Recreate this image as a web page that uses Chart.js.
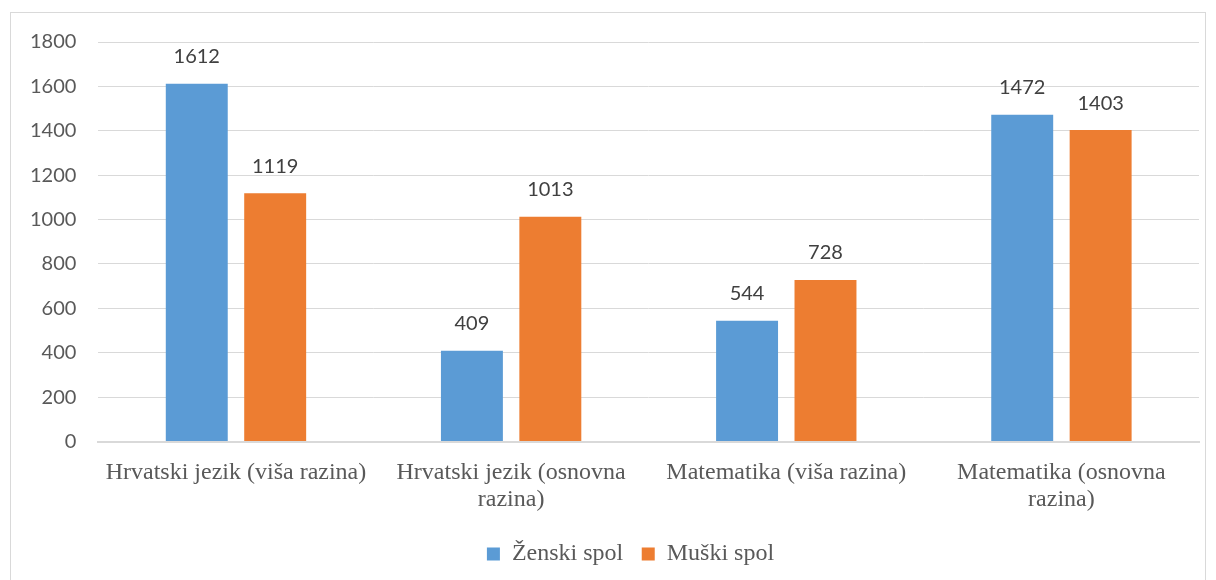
<!DOCTYPE html>
<html>
<head>
<meta charset="utf-8">
<script src="https://cdn.jsdelivr.net/npm/chart.js@4"></script>
<style>
  html, body { margin: 0; padding: 0; background: #fff; }
  #frame { position: absolute; left: 10px; top: 12px; width: 1196px; height: 600px; border: 1px solid #d9d9d9; box-sizing: border-box; }
  #wrap { position: absolute; left: 0; top: 0; width: 1216px; height: 580px; }
</style>
</head>
<body>
<div id="frame"></div>
<div id="wrap"><canvas id="barChart"></canvas></div>
<script>
// podaci
const categories = [
    "Hrvatski jezik (viša razina)",
    ["Hrvatski jezik (osnovna", "razina)"],
    "Matematika (viša razina)",
    ["Matematika (osnovna", "razina)"]
];
const zenski = [1612, 409, 544, 1472];
const muski = [1119, 1013, 728, 1403];
const yTicks = [0, 200, 400, 600, 800, 1000, 1200, 1400, 1600, 1800];

// oznake vrijednosti iznad stupaca
const valueLabels = {
    id: "valueLabels",
    afterDatasetsDraw(chart) {
        const ctx = chart.ctx;
        ctx.save();
        ctx.font = "20px Lato";
        ctx.fillStyle = "#404040";
        ctx.textAlign = "center";
        ctx.textBaseline = "bottom";
        chart.data.datasets.forEach((ds, i) => {
            chart.getDatasetMeta(i).data.forEach((bar, j) => {
                ctx.fillText(ds.data[j], bar.x, bar.y - 17);
            });
        });
        ctx.restore();
    }
};

// legenda je u originalu malo pomaknuta udesno
const legendShift = {
    id: "legendShift",
    afterLayout(chart) {
        if (chart.legend) chart.legend.left += 54;
    }
};

document.addEventListener("DOMContentLoaded", function () {
    const ctx = document.getElementById("barChart").getContext("2d");
    new Chart(ctx, {
        type: "bar",
        data: {
            labels: categories,
            datasets: [
                {
                    label: "Ženski spol",
                    data: zenski,
                    backgroundColor: "#5b9bd5",
                },
                {
                    label: "Muški spol",
                    data: muski,
                    backgroundColor: "#ed7d31",
                },
            ],
        },
        options: {
            responsive: true,
            maintainAspectRatio: false,
            animation: false,
            categoryPercentage: 0.57,
            barPercentage: 0.79,
            layout: { padding: { top: 42, left: 8, right: 17, bottom: 4 } },
            plugins: {
                legend: {
                    position: "bottom",
                    labels: {
                        boxWidth: 13,
                        boxHeight: 13,
                        padding: 18.5,
                        color: "#595959",
                        font: { family: "Liberation Serif", size: 24 },
                    },
                },
                tooltip: { enabled: false },
            },
            scales: {
                x: {
                    grid: { display: false },
                    border: { color: "#d9d9d9", width: 2 },
                    ticks: {
                        color: "#595959",
                        maxRotation: 0,
                        padding: 10,
                        font: { family: "Liberation Serif", size: 24, lineHeight: 1.125 },
                    },
                },
                y: {
                    min: 0,
                    max: 1800,
                    afterBuildTicks: (axis) => { axis.ticks = yTicks.map(v => ({ value: v })); },
                    grid: { color: "#d9d9d9", drawTicks: false },
                    border: { display: false },
                    ticks: {
                        color: "#595959",
                        padding: 22,
                        font: { family: "Lato", size: 20 },
                        callback: (v) => String(v),
                    },
                },
            },
        },
        plugins: [valueLabels, legendShift],
    });
});
</script>
</body>
</html>
